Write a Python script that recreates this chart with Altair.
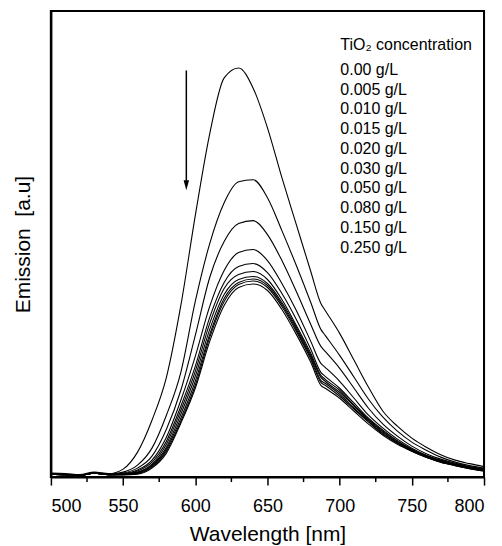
import altair as alt
import pandas as pd

# Wavelength grid (nm)
wavelength = [500, 510, 520, 530, 540, 550, 560, 570, 580, 590, 600, 610, 620, 630, 640, 650,
              660, 670, 680, 687, 690, 700, 710, 720, 730, 740, 750, 760, 770, 780, 790, 800]

concentrations = ["0.00 g/L", "0.005 g/L", "0.010 g/L", "0.015 g/L", "0.020 g/L",
                  "0.030 g/L", "0.050 g/L", "0.080 g/L", "0.150 g/L", "0.250 g/L"]

major_ticks = [500, 550, 600, 650, 700, 750, 800]
minor_ticks = [525, 575, 625, 675, 725, 775]

# Emission (arbitrary units)
em_000 = [4, 3.5, 2.5, 5, 3.5, 8, 25, 57, 100, 172, 262, 344, 400, 410, 390, 350,
          300, 253, 206, 174, 167, 144, 117, 90, 66, 51, 39, 30, 22.5, 17, 13.5, 10.5]
em_005 = [3.5, 3, 2, 4.5, 3, 5, 12, 29, 62, 105, 176, 234, 275, 296, 298, 280,
          247, 212, 175, 148, 142, 122, 100, 78, 60, 46, 35, 27, 20, 15, 11.5, 9]
em_010 = [3, 2.5, 1.5, 4, 2.5, 4, 9, 21, 48, 87, 142, 200, 236, 254, 257, 243,
          217, 186, 153, 131, 126, 109, 89, 69, 53, 41, 31, 23.5, 18, 14, 10.5, 8]
em_015 = [3, 2.5, 1.5, 4, 2.5, 3.5, 7, 17, 40, 77, 121, 171, 207, 225, 228, 217,
          194, 167, 136, 114, 110, 96, 79, 62, 49, 38, 29, 22, 17, 13, 10, 7.5]
em_020 = [3, 2.5, 1.5, 4, 2.5, 3, 6, 15, 36, 71, 111, 160, 195, 211, 214, 205,
          184, 158, 128, 105, 101, 89, 74, 59, 47, 36.5, 28, 21.5, 16.5, 12.5, 9.5, 7]
em_030 = [3, 2.5, 1.5, 4, 2.5, 3, 5, 13, 33, 67, 106, 154, 189, 203, 206, 198,
          178, 152, 124, 102, 98, 87, 72, 58, 46, 36, 27.5, 21, 16, 12.5, 9.5, 7]
em_050 = [3, 2.5, 1.5, 4, 2.5, 2.5, 4.5, 12, 30, 63, 101, 148, 183, 198, 201, 194,
          175, 150, 122, 100, 96, 85, 71, 57, 45, 35, 27, 20.5, 15.5, 12, 9, 6.5]
em_080 = [3, 2.5, 1.5, 4, 2.5, 2.5, 4, 11, 28, 59, 96, 143, 179, 195, 198.5, 192,
          173, 148, 120, 97, 94, 83, 69, 56, 44, 34.5, 26.5, 20, 15.5, 12, 9, 6.5]
em_150 = [3, 2.5, 1.5, 4, 2.5, 2.5, 3.5, 10, 26, 56, 92, 140, 176, 193, 196.5, 190,
          171, 146, 118, 95, 92, 81, 68, 55, 43, 34, 26, 20, 15, 11.5, 8.5, 6]
em_250 = [3, 2.5, 1.5, 4, 2.5, 2.5, 3, 9, 24, 54, 89, 136, 172, 190, 193.5, 187,
          168, 143, 115, 92, 89, 79, 66, 53, 42, 33, 26, 20, 15, 11.5, 8.5, 6]

series = [em_000, em_005, em_010, em_015, em_020, em_030, em_050, em_080, em_150, em_250]

rows = []
for label, vals in zip(concentrations, series):
    for w, v in zip(wavelength, vals):
        rows.append({"wl": w, "em": v, "conc": label})
df = pd.DataFrame(rows)

FONT = "Liberation Sans"
W, H = 434, 467
X_MIN, X_MAX, Y_MIN, Y_MAX = 500, 800, 0, 467
xscale = alt.Scale(domain=[X_MIN, X_MAX], nice=False, zero=False)
yscale = alt.Scale(domain=[Y_MIN, Y_MAX], nice=False, zero=False)

x_axis = alt.Axis(
    values=major_ticks,
    labelOverlap=False,
    labelFont=FONT, labelFontSize=18, labelColor="black", labelPadding=12,
    tickSize=8, tickColor="black", tickWidth=1.5,
    domainColor="black", domainWidth=2,
    grid=False,
    title="Wavelength [nm]", titleFont=FONT, titleFontSize=21,
    titleFontWeight="normal", titleColor="black", titlePadding=9,
)
y_axis = alt.Axis(
    ticks=False, labels=False, grid=False,
    domainColor="black", domainWidth=2,
    title="Emission\u00a0 [a.u]", titleFont=FONT, titleFontSize=21,
    titleFontWeight="normal", titleColor="black", titlePadding=17,
)

lines = alt.Chart(df).mark_line(
    interpolate="monotone", color="black", strokeWidth=1.1
).encode(
    x=alt.X("wl:Q", scale=xscale, axis=x_axis),
    y=alt.Y("em:Q", scale=yscale, axis=y_axis),
    detail="conc:N",
)

# minor ticks below the x axis
minor_df = pd.DataFrame({"wl": minor_ticks})
minor = alt.Chart(minor_df).mark_rule(color="black", strokeWidth=1.5).encode(
    x=alt.X("wl:Q", scale=xscale),
    y=alt.value(H), y2=alt.value(H + 5),
)

# frame around the plot area (along the scale extents)
frame_df = pd.DataFrame({"x0": [X_MIN], "x1": [X_MAX], "y0": [Y_MIN], "y1": [Y_MAX]})
frame_box = alt.Chart(frame_df).mark_rect(
    fill="transparent", stroke="black", strokeWidth=2
).encode(
    x=alt.X("x0:Q", scale=xscale), x2="x1:Q",
    y=alt.Y("y0:Q", scale=yscale), y2="y1:Q",
)
frame_top = alt.Chart(frame_df).mark_rule(color="black", strokeWidth=2).encode(
    x=alt.X("x0:Q", scale=xscale), x2="x1:Q", y=alt.Y("y1:Q", scale=yscale)
)
frame_right = alt.Chart(frame_df).mark_rule(color="black", strokeWidth=2).encode(
    x=alt.X("x1:Q", scale=xscale), y=alt.Y("y0:Q", scale=yscale), y2="y1:Q"
)

# legend text
legend_df = pd.DataFrame({
    "wl": [700.5] * len(concentrations),
    "em": [408 - 19.8 * i for i in range(len(concentrations))],
    "txt": concentrations,
})
legend_txt = alt.Chart(legend_df).mark_text(
    align="left", baseline="middle", font=FONT, fontSize=16, color="black"
).encode(x=alt.X("wl:Q", scale=xscale), y=alt.Y("em:Q", scale=yscale), text="txt:N")

head_df = pd.DataFrame({"wl": [700.5], "em": [433], "txt": ["TiO\u2082 concentration"]})
head_txt = alt.Chart(head_df).mark_text(
    align="left", baseline="middle", font=FONT, fontSize=16, color="black"
).encode(x=alt.X("wl:Q", scale=xscale), y=alt.Y("em:Q", scale=yscale), text="txt:N")

# arrow
arrow_df = pd.DataFrame({"wl": [593.8], "top": [407.5], "bot": [297]})
arrow_line = alt.Chart(arrow_df).mark_rule(color="black", strokeWidth=1.5).encode(
    x=alt.X("wl:Q", scale=xscale), y=alt.Y("top:Q", scale=yscale), y2="bot:Q"
)
tip_df = pd.DataFrame({"wl": [593.8], "em": [292.5]})
arrow_head = alt.Chart(tip_df).mark_point(
    shape="M-0.55,-1L0.55,-1L0,1Z", size=100, filled=True, color="black", opacity=1
).encode(x=alt.X("wl:Q", scale=xscale), y=alt.Y("em:Q", scale=yscale))

chart = alt.layer(frame_box, lines, minor, frame_top, frame_right, legend_txt, head_txt,
                  arrow_line, arrow_head).properties(
    width=W, height=H,
    autosize=alt.AutoSizeParams(type="none"),
    padding={"left": 43, "top": 2.5, "right": 10, "bottom": 68},
).configure_view(stroke="black", strokeWidth=2)

chart.save("out.html", embed_options={"renderer": "svg", "actions": False})
